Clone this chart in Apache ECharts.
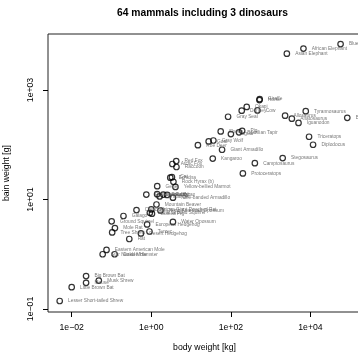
<!DOCTYPE html>
<html>
<head>
<meta charset="utf-8">
<script src="https://cdn.jsdelivr.net/npm/echarts@6/dist/echarts.min.js"></script>
<style>
  html, body { margin: 0; padding: 0; background: #fff; }
  #chart { width: 358px; height: 355px; }
</style>
</head>
<body>
<div id="chart"></div>
<script>
// Brain weight vs body weight, log-log, one labelled open circle per species.
const chartTitle = '64 mammals including 3 dinosaurs';
const xTitle = 'body weight [kg]';
const yTitle = 'bain weight [g]';

const species = [
  'Lesser Short-tailed Shrew', 'Little Brown Bat', 'Big Brown Bat', 'Mouse', 'Musk Shrew',
  'Star Nosed Mole', 'Eastern American Mole', 'Golden Hamster', 'Ground Squirrel', 'Tree Shrew',
  'Mole Rat', 'Galago', 'Rat', 'Chinchilla', 'Desert Hedgehog',
  'Rock Hyrax (a)', 'European Hedgehog', 'Tenrec', 'Arctic Ground Squirrel', 'African Giant Pouched Rat',
  'Guinea Pig', 'Mountain Beaver', 'Slow Loris', 'Genet', 'Phalanger',
  'North American Opossum', 'Tree Hyrax', 'Rabbit', 'Echidna', 'Cat',
  'Arctic Fox', 'Nine-banded Armadillo', 'Water Opossum', 'Rock Hyrax (b)', 'Yellow-bellied Marmot',
  'Red Fox', 'Raccoon', 'Roe Deer', 'Goat', 'Kangaroo',
  'Gray Wolf', 'Sheep', 'Giant Armadillo', 'Gray Seal', 'Jaguar',
  'Brazilian Tapir', 'Donkey', 'Pig', 'Okapi', 'Cow',
  'Horse', 'Giraffe', 'Asian Elephant', 'African Elephant', 'Blue Whale',
  'Protoceratops', 'Camptosaurus', 'Stegosaurus', 'Allosaurus', 'Anatosaurus',
  'Iguanodon', 'Tyrannosaurus', 'Triceratops', 'Diplodocus', 'Brachiosaurus'
];

const bodyKg = [
  0.005, 0.01, 0.023, 0.023, 0.048,
  0.06, 0.075, 0.12, 0.101, 0.104,
  0.122, 0.2, 0.28, 0.425, 0.55,
  0.75, 0.785, 0.9, 0.92, 1,
  1.04, 1.35, 1.4, 1.41, 1.62,
  1.7, 2, 2.5, 3, 3.3,
  3.385, 3.5, 3.5, 3.6, 4.05,
  4.235, 4.288, 14.83, 27.66, 35,
  36.33, 55.5, 60, 85, 100,
  160, 187.1, 192, 250, 465,
  521, 529, 2547, 6654, 57000,
  200, 400, 2000, 2300, 3400,
  5000, 7600, 9200, 11600, 84000
];

const brainG = [
  0.14, 0.25, 0.4, 0.3, 0.33,
  1, 1.2, 1, 4, 2.5,
  3, 5, 1.9, 6.4, 2.4,
  12.3, 3.5, 2.6, 5.7, 6.6,
  5.5, 8.1, 12.5, 17.5, 11.4,
  6.3, 12.3, 12.1, 25, 25.6,
  44.5, 10.8, 3.9, 21, 17,
  50.4, 39.2, 98.2, 115, 56,
  119.5, 175, 81, 325, 157,
  169, 419, 180, 490, 423,
  655, 680, 4603, 5712, 6900,
  30, 46, 57, 340, 300,
  250, 410, 140, 100, 310
];

const xTickValues = [1e-2, 1e0, 1e2, 1e4];
const yTickValues = [1e-1, 1e1, 1e3];

const FONT = '"Liberation Sans", Arial, Helvetica, sans-serif';

// R-style scientific tick text, e.g. 1e+02 / 1e−02
function sciLabel(v) {
  const e = Math.round(Math.log10(v));
  const sign = e < 0 ? '\u2212' : '+';
  return '1e' + sign + String(Math.abs(e)).padStart(2, '0');
}

const points = species.map((name, i) => ({ name: name, value: [bodyKg[i], brainG[i]] }));

const chart = echarts.init(document.getElementById('chart'), null, { renderer: 'canvas' });
chart.setOption({
  animation: false,
  backgroundColor: '#fff',
  title: {
    text: chartTitle,
    left: 117,
    top: 8,
    padding: 0,
    textStyle: { fontFamily: FONT, fontSize: 10.3, fontWeight: 'bold', color: '#000' }
  },
  grid: {
    left: 48, top: 34, right: -3, bottom: 43,
    outerBoundsMode: 'none',
    containLabel: false,
    show: true, borderColor: '#222', borderWidth: 1, backgroundColor: 'transparent'
  },
  xAxis: {
    type: 'log', logBase: 10,
    min: Math.pow(10, -2.595), max: Math.pow(10, 5.269),
    splitLine: { show: false },
    axisLine: { show: false },
    axisTick: { show: true, inside: false, length: 5, customValues: xTickValues, lineStyle: { color: '#000', width: 1 } },
    axisLabel: { customValues: xTickValues, formatter: sciLabel, margin: 11, fontFamily: FONT, fontSize: 8.7, color: '#000' },
    minorTick: { show: false },
    name: xTitle, nameLocation: 'middle', nameGap: 31,
    nameTextStyle: { fontFamily: FONT, fontSize: 8.7, color: '#000' }
  },
  yAxis: {
    type: 'log', logBase: 10,
    min: Math.pow(10, -1.055), max: Math.pow(10, 4.023),
    splitLine: { show: false },
    axisLine: { show: false },
    axisTick: { show: true, inside: false, length: 5, customValues: yTickValues, lineStyle: { color: '#000', width: 1 } },
    axisLabel: { customValues: yTickValues, formatter: sciLabel, rotate: 90, margin: 13, fontFamily: FONT, fontSize: 8.7, color: '#000' },
    minorTick: { show: false },
    name: yTitle, nameLocation: 'middle', nameGap: 37,
    nameTextStyle: { fontFamily: FONT, fontSize: 8.7, color: '#000' }
  },
  series: [{
    type: 'scatter',
    data: points,
    symbol: 'circle',
    symbolSize: 5.5,
    itemStyle: { color: 'transparent', borderColor: '#000', borderWidth: 1.2 },
    label: {
      show: true,
      position: 'right',
      distance: 5,
      offset: [0, -2.5],
      formatter: p => p.name,
      fontFamily: FONT,
      fontSize: 4.8,
      color: '#555'
    },
    labelLayout: { hideOverlap: false },
    emphasis: { disabled: true }
  }]
});
</script>
</body>
</html>
